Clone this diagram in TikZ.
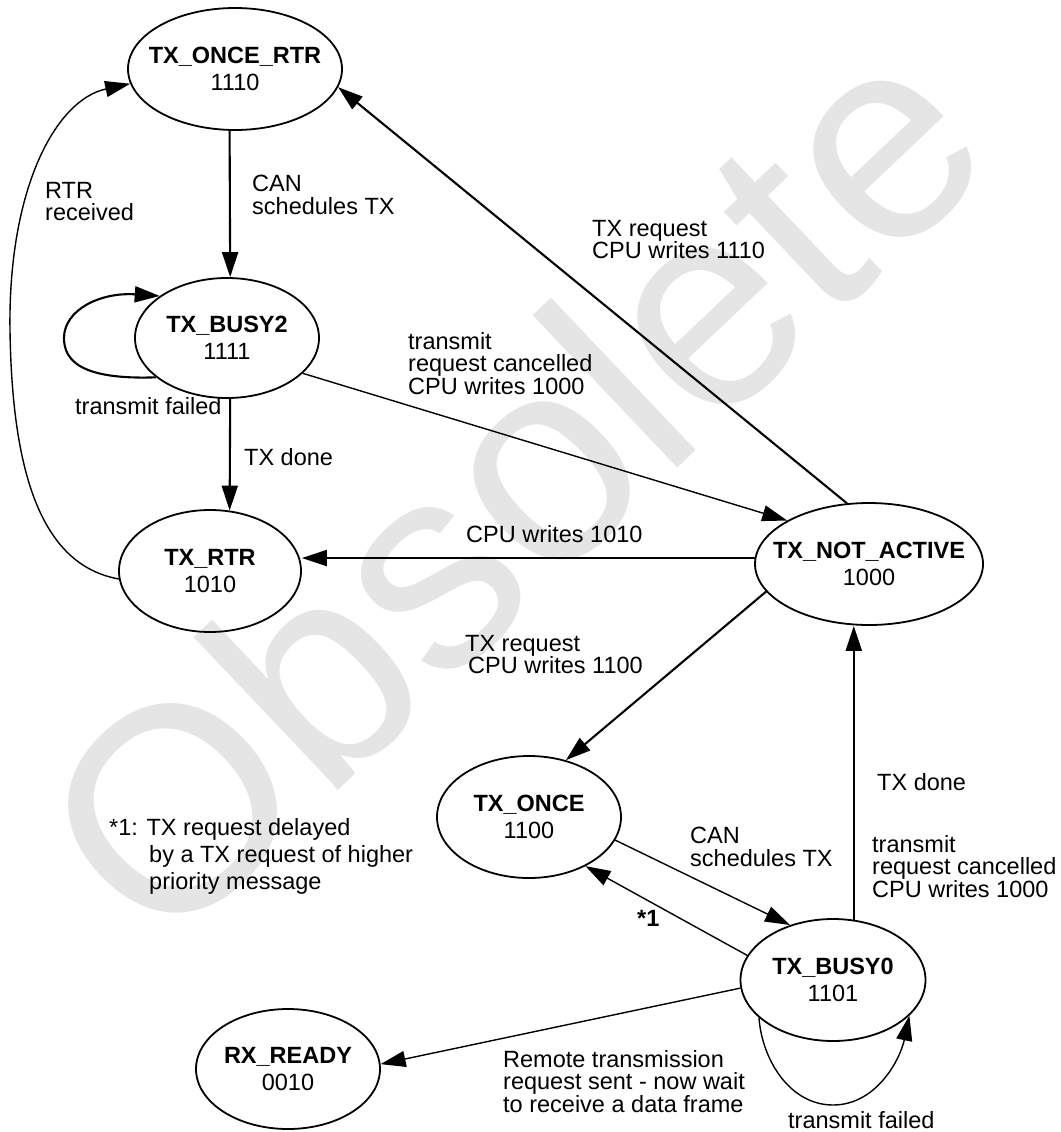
\documentclass[tikz,border=0pt]{standalone}
\usepackage{fontspec}
\setmainfont{Liberation Sans}
\usetikzlibrary{arrows.meta,shapes.geometric}
\begin{document}
\begin{tikzpicture}[x=1pt,y=-1pt,
  state/.style={ellipse, draw, line width=1.8pt, inner sep=0pt},
  stext/.style={inner sep=0pt, align=center, font=\fontsize{23.5}{27}\selectfont},
  lbl/.style={anchor=north west, inner sep=0pt, align=left, font=\fontsize{23.5}{22.5}\selectfont},
  arr/.style={line width=1.4pt, -{Triangle[length=25pt,width=16pt]}},
  tarr/.style={arr, line width=2.1pt},
  wmark/.style={rotate=43.5, text=black!10, inner sep=0pt, font=\fontsize{290}{290}\selectfont}]
\useasboundingbox (0,0) rectangle (1060,1132);
\begin{scope}
\clip (0,0) rectangle (1060,1132);
\node[wmark] (wm) at (510,484) {Obsolete};
\end{scope}

% states
\node[state, minimum width=214pt, minimum height=122pt,
  label={[stext]center:{\textbf{TX\_ONCE\_RTR}\\1110}}] (ortr) at (235,69) {};
\node[state, minimum width=184pt, minimum height=120pt,
  label={[stext]center:{\textbf{TX\_BUSY2}\\1111}}] (busy2) at (227,338) {};
\node[state, minimum width=182pt, minimum height=122pt,
  label={[stext]center:{\textbf{TX\_RTR}\\1010}}] (rtr) at (210,571) {};
\node[state, minimum width=228pt, minimum height=122pt,
  label={[stext]center:{\textbf{TX\_NOT\_ACTIVE}\\1000}}] (notact) at (869,564) {};
\node[state, minimum width=184pt, minimum height=122pt,
  label={[stext]center:{\textbf{TX\_ONCE}\\1100}}] (once) at (529,817) {};
\node[state, minimum width=185pt, minimum height=122pt,
  label={[stext]center:{\textbf{TX\_BUSY0}\\1101}}] (busy0) at (833,980) {};
\node[state, minimum width=184pt, minimum height=120pt,
  label={[stext]center:{\textbf{RX\_READY}\\0010}}] (rxr) at (288,1069) {};

% connectors
\draw[tarr] (ortr.265) -- (busy2.87);
\node[lbl] (l1) at (252,175) {CAN\\schedules TX};

\draw[tarr] (busy2.273) -- (rtr.72);
\node[lbl] (l2) at (244,448) {TX done};

\draw[tarr] (busy2.209) .. controls (80,380) and (64,360) .. (64,338)
  .. controls (64,310) and (100,292) .. (busy2.148);
\node[lbl] (l3) at (75,397) {transmit failed};

\draw[arr] (rtr.185) .. controls (40,565) and (12,470) .. (10,330)
  .. controls (8,190) and (55,100) .. (ortr.188);
\node[lbl] (l4) at (45,182) {RTR\\received};

\draw[tarr] (notact.110) -- (ortr.350);
\node[lbl] (l5) at (592,220) {TX request\\CPU writes 1110};

\draw[arr] (busy2.335) -- (notact.152);
\node[lbl] (l6) at (408,332) {transmit\\request cancelled\\CPU writes 1000};

\draw[tarr] (notact.177) -- (notact.177 -| rtr.east);
\node[lbl] (l7) at (466,525) {CPU writes 1010};

\draw[tarr] (notact.195) -- (once.57);
\node[lbl] (l8) at (465,635) {TX request\\\hspace{3pt}CPU writes 1100};

\draw[tarr] (busy0.71) -- (busy0.71 |- notact.south);
\node[lbl] (l9) at (877,773) {TX done};
\node[lbl] (l10) at (872,835) {transmit\\request cancelled\\CPU writes 1000};

\draw[arr] (once.345) -- (busy0.128);
\node[lbl] (l11) at (690,827) {CAN\\schedules TX};

\draw[arr] (busy0.164) -- (once.319);
\node[lbl] (l12) at (637,910) {\textbf{*1}};

\draw[arr] (busy0.185) -- (rxr.3);
\node[lbl] (l13) at (503,1050) {Remote transmission\\request sent - now wait\\to receive a data frame};

\draw[arr] (busy0.207) .. controls (762,1060) and (790,1105) .. (833,1105)
  .. controls (876,1105) and (900,1060) .. (busy0.335);
\node[lbl] (l14) at (788,1111) {transmit failed};

\node[lbl, font=\fontsize{23.5}{27}\selectfont] (note) at (109,818)
  {*1: TX request delayed\\\hspace{40pt}by a TX request of higher\\\hspace{40pt}priority message};
\end{tikzpicture}
\end{document}
